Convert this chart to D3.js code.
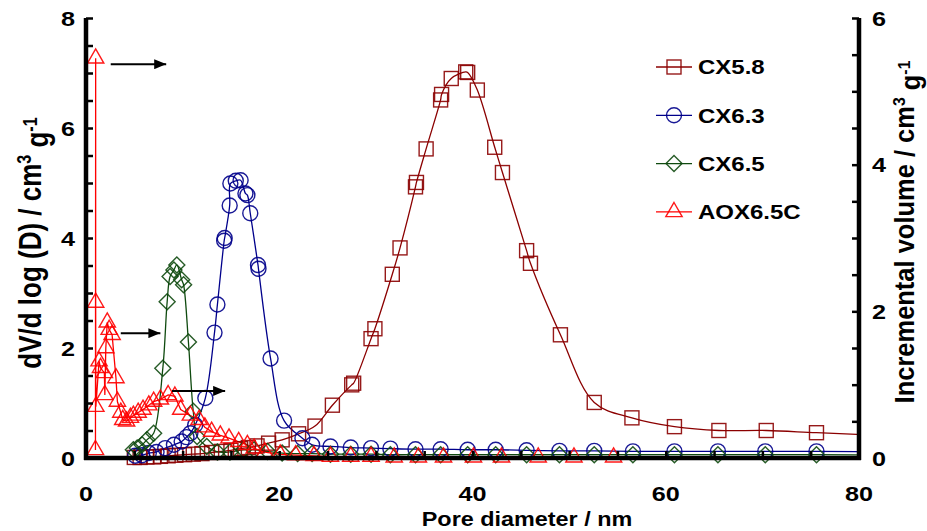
<!DOCTYPE html>
<html>
<head>
<meta charset="utf-8">
<script src="https://cdn.jsdelivr.net/npm/d3@7"></script>
<style>
  body { margin: 0; background: #fff; }
  text { font-family: "Liberation Sans", Arial, sans-serif; font-weight: bold; fill: #000; }
</style>
</head>
<body>
<svg id="chart" width="927" height="531"></svg>
<script>
// pore size distributions [diameter nm, dV/dlogD] (left axis)
const cx58 = [[5.0,0.01],[5.6,0.01],[6.3,0.02],[7.0,0.02],[7.7,0.03],[8.5,0.04],[9.3,0.05],[10.2,0.06],
  [11.1,0.07],[12.0,0.08],[13.0,0.10],[14.0,0.12],[15.0,0.14],[16.0,0.17],[16.8,0.19],[17.7,0.22],
  [18.9,0.27],[20.3,0.33],[22.0,0.44],[23.7,0.58],[25.5,0.96],[27.5,1.33],[27.7,1.36],[29.5,2.17],
  [29.9,2.35],[31.7,3.34],[32.5,3.82],[34.1,4.93],[34.2,5.01],[35.2,5.62],[36.7,6.51],[36.8,6.61],
  [37.8,6.90],[39.3,7.02],[39.5,7.01],[40.5,6.69],[42.3,5.65],[43.1,5.19],[45.6,3.77],[46.0,3.54],
  [49.1,2.24],[52.6,1.01],[56.5,0.73],[60.9,0.57],[65.5,0.50],[70.4,0.50],[75.6,0.46]];
const cx58Tail = [[85,0.39]];

const cx63 = [[5.1,0.04],[5.8,0.05],[6.5,0.09],[7.3,0.11],[8.2,0.18],[9.1,0.24],[9.9,0.30],[10.4,0.38],
  [10.8,0.45],[11.3,0.60],[12.35,1.09],[13.3,2.28],[13.6,2.79],[14.3,3.95],[14.35,4.0],[14.87,4.59],
  [14.94,4.99],[15.5,5.04],[16.0,5.05],[16.5,4.81],[16.7,4.78],[17.0,4.45],[17.8,3.51],[17.85,3.44],
  [19.1,1.81],[20.5,0.68],[22.4,0.36],[23.4,0.24],[25.3,0.21],[27.4,0.19],[29.5,0.18],[31.5,0.17],
  [34.1,0.16],[36.7,0.16],[39.5,0.15],[42.4,0.15],[45.6,0.14],[49.0,0.13],[52.6,0.13],[56.6,0.12],
  [60.9,0.12],[65.4,0.12],[70.3,0.12],[75.6,0.12]];
const cx63Tail = [[85,0.11]];

const cx65 = [[4.9,0.15],[5.3,0.18],[5.8,0.24],[6.3,0.33],[7.0,0.45],[7.95,1.63],[8.4,2.84],[8.7,3.30],
  [9.1,3.42],[9.4,3.51],[9.9,3.24],[10.1,3.15],[10.6,2.11],[11.1,0.85],[11.5,0.39],[12.5,0.21],
  [13.6,0.11],[14.9,0.11],[16.3,0.15],[17.4,0.15],[18.8,0.12],[20.3,0.09],[21.9,0.08],[23.4,0.08],
  [25.3,0.07],[27.4,0.07],[29.5,0.07],[31.5,0.06],[34.1,0.06],[36.7,0.06],[39.5,0.06],[42.4,0.06],
  [45.6,0.06],[49.0,0.06],[52.6,0.06],[56.6,0.06],[60.9,0.06],[65.4,0.06],[70.3,0.06],[75.6,0.06]];
const cx65Tail = [[85,0.05]];

// incremental volume (right axis)
const aox65c = [[0.98,0.11],[1.0,5.45],[1.0,2.12],[1.02,0.70],[1.35,1.32],[1.5,1.23],[1.9,1.16],[1.95,0.86],
  [2.05,1.50],[2.2,1.85],[2.4,1.75],[2.7,1.68],[3.1,1.09],[3.25,0.77],[3.6,0.62],[3.8,0.52],[4.2,0.50],
  [4.6,0.55],[4.9,0.58],[5.4,0.62],[5.9,0.66],[6.5,0.72],[7.0,0.77],[7.7,0.80],[8.5,0.86],[9.2,0.84],
  [9.8,0.66],[10.8,0.58],[11.7,0.52],[12.3,0.42],[13.0,0.36],[13.9,0.31],[14.8,0.27],[15.8,0.22],
  [16.7,0.18],[17.4,0.13],[18.5,0.08],[20.1,0.05],[21.7,0.04],[23.6,0.03],[25.3,0.02],[27.4,0.02],
  [29.5,0.02],[31.9,0.01],[34.4,0.01],[37.0,0.01],[40.1,0.01],[43.0,0.01],[46.8,0.01],[50.5,0.01],
  [54.6,0.01]];

const seriesNames = ["CX5.8", "CX6.3", "CX6.5", "AOX6.5C"];
const leftTicks = [0, 2, 4, 6, 8];
const rightTicks = [0, 2, 4, 6];
const xTicks = [0, 20, 40, 60, 80];

// arrows: [x0, x1, value, axis]
const arrows = [[2.56, 8.3, 5.37, "right"], [3.6, 7.7, 2.27, "left"], [8.9, 14.4, 1.22, "left"]];

const svg = d3.select("#chart");
const x = d3.scaleLinear().domain([0, 80]).range([86, 859]);
const yL = d3.scaleLinear().domain([0, 8]).range([458, 18]);
const yR = d3.scaleLinear().domain([0, 6]).range([458, 18]);

svg.append("clipPath").attr("id", "plotclip")
  .append("rect").attr("x", 86).attr("y", 0).attr("width", 773).attr("height", 531);

const series = [
  { name: seriesNames[0], pts: cx58, tail: cx58Tail, y: yL, color: "#8b0000", shape: "square", curve: d3.curveCatmullRom.alpha(0.5) },
  { name: seriesNames[1], pts: cx63, tail: cx63Tail, y: yL, color: "#00008b", shape: "circle", curve: d3.curveCatmullRom.alpha(0.5) },
  { name: seriesNames[2], pts: cx65, tail: cx65Tail, y: yL, color: "#0f4a0f", shape: "diamond", curve: d3.curveCatmullRom.alpha(0.5) },
  { name: seriesNames[3], pts: aox65c, tail: [], y: yR, color: "#ff0000", shape: "triangle", curve: d3.curveLinear }
];

function marker(g, shape, color) {
  let p;
  if (shape === "circle") p = g.append("circle").attr("r", 7.5);
  else if (shape === "square") p = g.append("rect").attr("x", -7).attr("y", -7).attr("width", 14).attr("height", 14);
  else if (shape === "diamond") p = g.append("path").attr("d", "M0,-8L8,0L0,8L-8,0Z");
  else p = g.append("path").attr("d", d3.symbol(d3.symbolTriangle, 115)());
  p.attr("fill", "none").attr("stroke", color).attr("stroke-width", 1.4).attr("stroke-opacity", 0.9);
}

series.forEach(s => {
  const line = d3.line().x(d => x(d[0])).y(d => s.y(d[1])).curve(s.curve);
  svg.append("path")
    .attr("d", line(s.pts.concat(s.tail)))
    .attr("clip-path", "url(#plotclip)")
    .attr("fill", "none").attr("stroke", s.color).attr("stroke-width", 1.3);
});

series.forEach(s => {
  s.pts.forEach(d => {
    const g = svg.append("g").attr("transform", `translate(${x(d[0])},${s.y(d[1])})`);
    marker(g, s.shape, s.color);
  });
});

// axes lines
svg.append("line").attr("x1", 86).attr("x2", 86).attr("y1", 18).attr("y2", 460)
  .attr("stroke", "#000").attr("stroke-width", 4.5);
svg.append("line").attr("x1", 859).attr("x2", 859).attr("y1", 18).attr("y2", 460)
  .attr("stroke", "#000").attr("stroke-width", 4.5);
svg.append("line").attr("x1", 84).attr("x2", 861).attr("y1", 458).attr("y2", 458)
  .attr("stroke", "#000").attr("stroke-width", 4.5);

// inward ticks
const tickStyle = g => { g.select(".domain").remove(); g.selectAll("line").attr("stroke", "#000").attr("stroke-width", 2.5); };
svg.append("g").attr("transform", "translate(86,0)")
  .call(d3.axisLeft(yL).tickValues(d3.range(0, 8.01, 0.5)).tickSize(-7).tickFormat(""))
  .call(tickStyle);
svg.append("g").attr("transform", "translate(859,0)")
  .call(d3.axisRight(yR).tickValues(d3.range(0, 6.01, 0.5)).tickSize(-7).tickFormat(""))
  .call(tickStyle);
svg.append("g").attr("transform", "translate(0,458)")
  .call(d3.axisBottom(x).tickValues(d3.range(0, 80.01, 5)).tickSize(-7).tickFormat(""))
  .call(tickStyle);

// tick labels (horizontally stretched like the source figure)
const sx = 1.2;
leftTicks.forEach(v => {
  svg.append("g").attr("transform", `translate(75,${yL(v)}) scale(${sx},1)`)
    .append("text").attr("text-anchor", "end").attr("dy", "0.36em").style("font-size", "21px").text(v);
});
rightTicks.forEach(v => {
  svg.append("g").attr("transform", `translate(872,${yR(v)}) scale(${sx},1)`)
    .append("text").attr("text-anchor", "start").attr("dy", "0.36em").style("font-size", "21px").text(v);
});
xTicks.forEach(v => {
  svg.append("g").attr("transform", `translate(${x(v)},493) scale(${sx},1)`)
    .append("text").attr("text-anchor", "middle").attr("dy", "0.36em").style("font-size", "21px").text(v);
});

// axis titles
svg.append("g").attr("transform", `translate(527,519) scale(${sx},1)`)
  .append("text").attr("text-anchor", "middle").attr("dy", "0.36em").style("font-size", "19.5px")
  .text("Pore diameter / nm");

function unitTitle(g, label, size) {
  const t = g.append("text").attr("text-anchor", "middle").attr("dy", "0.36em").style("font-size", size + "px");
  t.append("tspan").text(label + " / cm");
  t.append("tspan").attr("dy", "-0.55em").style("font-size", (size * 0.62) + "px").text("3");
  t.append("tspan").attr("dy", "0.55em").text(" g");
  t.append("tspan").attr("dy", "-0.55em").style("font-size", (size * 0.62) + "px").text("-1");
}
unitTitle(svg.append("g").attr("transform", "translate(30,243) rotate(-90) scale(1,1.2)"), "dV/d log (D)", 26);
unitTitle(svg.append("g").attr("transform", "translate(904,232) rotate(-90) scale(1,1.08)"), "Incremental volume", 25.5);

// arrows
const defs = svg.append("defs");
defs.append("marker").attr("id", "arrowhead").attr("viewBox", "0 0 12 10").attr("refX", 12).attr("refY", 5)
  .attr("markerWidth", 12).attr("markerHeight", 10).attr("markerUnits", "userSpaceOnUse").attr("orient", "auto")
  .append("path").attr("d", "M0,0L12,5L0,10Z").attr("fill", "#000");
arrows.forEach(a => {
  const y = a[3] === "right" ? yR : yL;
  svg.append("line").attr("x1", x(a[0])).attr("x2", x(a[1])).attr("y1", y(a[2])).attr("y2", y(a[2]))
    .attr("stroke", "#000").attr("stroke-width", 2).attr("marker-end", "url(#arrowhead)");
});

// legend
const legend = svg.append("g").attr("transform", "translate(656,67)");
series.forEach((s, i) => {
  const row = legend.append("g").attr("transform", `translate(0,${i * 48.3})`);
  row.append("line").attr("x1", 0).attr("x2", 36).attr("stroke", s.color).attr("stroke-width", 1.3);
  marker(row.append("g").attr("transform", "translate(18,0)"), s.shape, s.color);
  row.append("g").attr("transform", `translate(42,0) scale(${sx},1)`)
    .append("text").attr("dy", "0.36em").style("font-size", "20px").text(s.name);
});
</script>
</body>
</html>
